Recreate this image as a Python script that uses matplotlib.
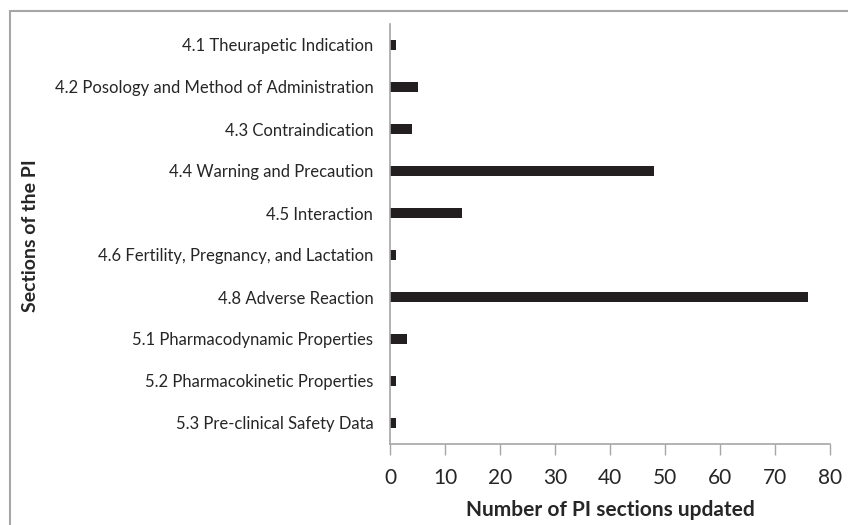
import matplotlib
matplotlib.use("Agg")
import matplotlib.pyplot as plt
from matplotlib.patches import Rectangle

categories = [
    "4.1 Theurapetic Indication",
    "4.2 Posology and Method of Administration",
    "4.3 Contraindication",
    "4.4 Warning and Precaution",
    "4.5 Interaction",
    "4.6 Fertility, Pregnancy, and Lactation",
    "4.8 Adverse Reaction",
    "5.1 Pharmacodynamic Properties",
    "5.2 Pharmacokinetic Properties",
    "5.3 Pre-clinical Safety Data",
]
values = [1, 5, 4, 48, 13, 1, 76, 3, 1, 1]
xticks = [0, 10, 20, 30, 40, 50, 60, 70, 80]

plt.rcParams['font.family'] = ['Lato', 'DejaVu Sans']

fig = plt.figure(figsize=(8.48, 5.25), dpi=100)
fig.patches.append(Rectangle((10/848, -0.1), 1.2, 1 - 11/525 + 0.1, transform=fig.transFigure,
                             fill=False, edgecolor='#a6a6a6', linewidth=1.5))
ax = fig.add_axes([390/848, 1 - 444/525, 440/848, 420/525])

ypos = list(range(len(categories)))
ax.barh(ypos, values, height=0.25, color='#231f20')
ax.set_ylim(len(categories) - 0.5, -0.5)
ax.set_xlim(0, 80)
ax.set_yticks(ypos)
ax.set_yticklabels(categories, fontsize=12, color='#262626')
ax.tick_params(axis='y', length=0, pad=12)
ax.set_xticks(xticks)
ax.set_xticklabels([str(t) for t in xticks], fontsize=15, color='#262626')
ax.tick_params(axis='x', length=8, width=1, color='#a6a6a6', pad=9, direction='out')
for s in ['top', 'right']:
    ax.spines[s].set_visible(False)
for s in ['left', 'bottom']:
    ax.spines[s].set_color('#a6a6a6')
    ax.spines[s].set_linewidth(1.2)
ax.set_xlabel("Number of PI sections updated", fontsize=15, fontweight='bold', color='#262626', labelpad=9)
fig.text(31/848, 1 - 236/525, "Sections of the PI", rotation=90, fontsize=14, fontweight='bold',
         color='#262626', ha='center', va='center')

fig.savefig("out.png", dpi=100)
